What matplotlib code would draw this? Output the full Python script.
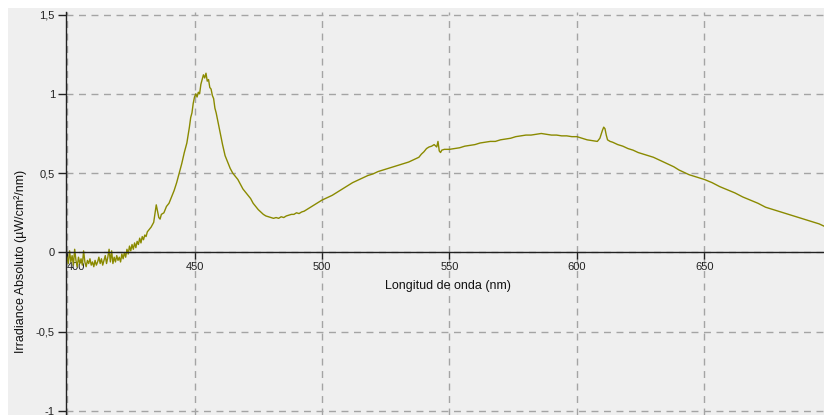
import matplotlib

matplotlib.use("Agg")
import matplotlib.pyplot as plt
from matplotlib.patches import Rectangle

# wavelength (nm) and absolute irradiance
wavelength = [
    400.0, 400.5, 401.0, 401.5, 402.0, 402.5, 403.0, 403.5, 404.0, 404.5,
    405.0, 405.5, 406.0, 406.5, 407.0, 407.5, 408.0, 408.5, 409.0, 409.5,
    410.0, 410.5, 411.0, 411.5, 412.0, 412.5, 413.0, 413.5, 414.0, 414.5,
    415.0, 415.5, 416.0, 416.5, 417.0, 417.5, 418.0, 418.5, 419.0, 419.5,
    420.0, 420.5, 421.0, 421.5, 422.0, 422.5, 423.0, 423.5, 424.0, 424.5,
    425.0, 425.5, 426.0, 426.5, 427.0, 427.5, 428.0, 428.5, 429.0, 429.5,
    430.0, 430.5, 431.0, 431.5,
    432, 433, 434, 435, 435.5, 436, 436.5, 437, 438, 439, 440, 441, 442, 443,
    444, 445, 446, 447, 447.5, 448, 448.5, 449, 449.5, 450, 450.5, 451, 451.5,
    452, 452.5, 453, 453.5, 454, 454.5, 455, 455.5, 456, 456.5, 457, 457.5,
    458, 458.5, 459, 460, 461, 462, 463, 464, 465, 466, 467, 468, 469, 470,
    471, 472, 473, 474, 475, 476, 477, 478, 479, 480, 481, 482, 483, 484, 485,
    486, 487, 488, 489, 490, 491, 492, 493, 494, 495, 496, 497, 498, 499, 500,
    502, 504, 506, 508, 510, 512, 514, 516, 518, 520, 522, 524, 526, 528, 530,
    532, 534, 536, 538, 539, 540, 541, 542, 543, 544, 545, 545.5, 546, 546.5,
    547, 548, 550, 552, 554, 556, 558, 560, 562, 564, 566, 568, 570, 572, 574,
    576, 578, 580, 582, 584, 586, 588, 590, 592, 594, 596, 598, 600, 602, 604,
    606, 608, 609, 610, 610.5, 611, 611.5, 612, 613, 614, 616, 618, 620, 622,
    624, 626, 628, 630, 632, 634, 636, 638, 640, 642, 644, 646, 648, 650, 653,
    656, 659, 662, 665, 668, 671, 674, 677, 680, 683, 686, 689, 692, 695, 697,
]
irradiance = [
    -0.03, -0.07, 0.01, -0.06, -0.02, -0.08, 0.02, -0.05, -0.09, -0.03,
    -0.07, -0.04, -0.08, 0.01, -0.06, -0.09, -0.05, -0.07, -0.04, -0.08,
    -0.06, -0.09, -0.05, -0.08, -0.06, -0.03, -0.07, -0.04, -0.08, -0.05,
    -0.02, -0.07, -0.03, 0.02, -0.06, 0.01, -0.07, -0.03, -0.06, -0.02,
    -0.05, -0.03, -0.06, -0.01, -0.04, 0.00, -0.03, 0.02, -0.01, 0.04,
    0.01, 0.05, 0.02, 0.06, 0.03, 0.07, 0.05, 0.09, 0.06, 0.10,
    0.08, 0.11, 0.10, 0.13,
    0.14, 0.16, 0.19, 0.30, 0.26, 0.22, 0.21, 0.24, 0.25, 0.29, 0.31, 0.35, 0.39, 0.44,
    0.50, 0.56, 0.63, 0.69, 0.74, 0.79, 0.85, 0.88, 0.94, 0.98, 1.00, 0.98, 1.01,
    1.00, 1.06, 1.09, 1.12, 1.10, 1.13, 1.08, 1.09, 1.04, 1.03, 0.99, 0.97,
    0.91, 0.88, 0.84, 0.76, 0.68, 0.61, 0.57, 0.53, 0.50, 0.48, 0.46, 0.43, 0.40, 0.38,
    0.36, 0.34, 0.31, 0.29, 0.27, 0.255, 0.24, 0.23, 0.225, 0.22, 0.215, 0.22, 0.215, 0.225, 0.22,
    0.23, 0.235, 0.24, 0.24, 0.25, 0.245, 0.255, 0.26, 0.27, 0.28, 0.29, 0.30, 0.31, 0.32, 0.33,
    0.345, 0.36, 0.38, 0.40, 0.42, 0.44, 0.455, 0.47, 0.485, 0.495, 0.51, 0.52, 0.53, 0.54, 0.55,
    0.56, 0.57, 0.585, 0.60, 0.62, 0.635, 0.655, 0.665, 0.67, 0.68, 0.665, 0.70, 0.64, 0.63,
    0.645, 0.65, 0.65, 0.655, 0.66, 0.67, 0.675, 0.68, 0.69, 0.695, 0.70, 0.70, 0.71, 0.715, 0.72,
    0.73, 0.735, 0.74, 0.74, 0.745, 0.75, 0.745, 0.74, 0.74, 0.735, 0.735, 0.73, 0.73, 0.72, 0.71,
    0.705, 0.70, 0.72, 0.77, 0.79, 0.78, 0.74, 0.71, 0.70, 0.695, 0.68, 0.67, 0.655, 0.645,
    0.63, 0.62, 0.61, 0.60, 0.585, 0.57, 0.555, 0.54, 0.52, 0.505, 0.49, 0.48, 0.47, 0.46, 0.44,
    0.415, 0.395, 0.375, 0.35, 0.33, 0.31, 0.285, 0.27, 0.255, 0.24, 0.225, 0.21, 0.195, 0.18, 0.165,
]

x_ticks = [400, 450, 500, 550, 600, 650]
y_ticks = [-1, -0.5, 0, 0.5, 1, 1.5]
y_tick_labels = ["-1", "-0,5", "0", "0,5", "1", "1,5"]

plt.rcParams["font.family"] = ["Liberation Sans", "DejaVu Sans"]

fig = plt.figure(figsize=(8.24, 4.15), dpi=100)
fig.patch.set_facecolor("white")
# grey panel behind everything, leaving a thin white margin top and left
fig.add_artist(
    Rectangle((8 / 824, 0), 1, 1 - 8 / 415, transform=fig.transFigure,
              facecolor="#efefef", edgecolor="none", zorder=-10)
)

ax = fig.add_axes([66 / 824, 0, 1 - 66 / 824, 403 / 415])
ax.set_facecolor("#efefef")
ax.plot(wavelength, irradiance, color="#8a8a00", linewidth=1.0)

ax.set_xlim(399.6, 696.9)
ax.set_ylim(-1.025, 1.516)

ax.spines["top"].set_visible(False)
ax.spines["right"].set_visible(False)
ax.spines["bottom"].set_position(("data", 0))
for s in ("left", "bottom"):
    ax.spines[s].set_color("#222222")
    ax.spines[s].set_linewidth(1.0)

ax.set_xticks(x_ticks)
ax.set_yticks(y_ticks)
ax.set_yticklabels(y_tick_labels)
ax.tick_params(axis="both", direction="out", length=6, width=1,
               color="#222222", labelsize=8, labelcolor="#222222", pad=2)
ax.tick_params(axis="x", length=5)
ax.get_xticklabels()[0].set_horizontalalignment("left")

ax.grid(True, color="#a4a4a4", linestyle=(0, (5, 4)), linewidth=1.0)
ax.set_axisbelow(True)

ax.set_xlabel("Longitud de onda (nm)", fontsize=9, color="#111111")
ax.xaxis.set_label_coords(0.504, 0.335)
ax.set_ylabel("Irradiance Absoluto (µW/cm²/nm)", fontsize=9, color="#111111")
ax.yaxis.set_label_coords(-0.051, 0.382)

fig.savefig("out.png", dpi=100)
